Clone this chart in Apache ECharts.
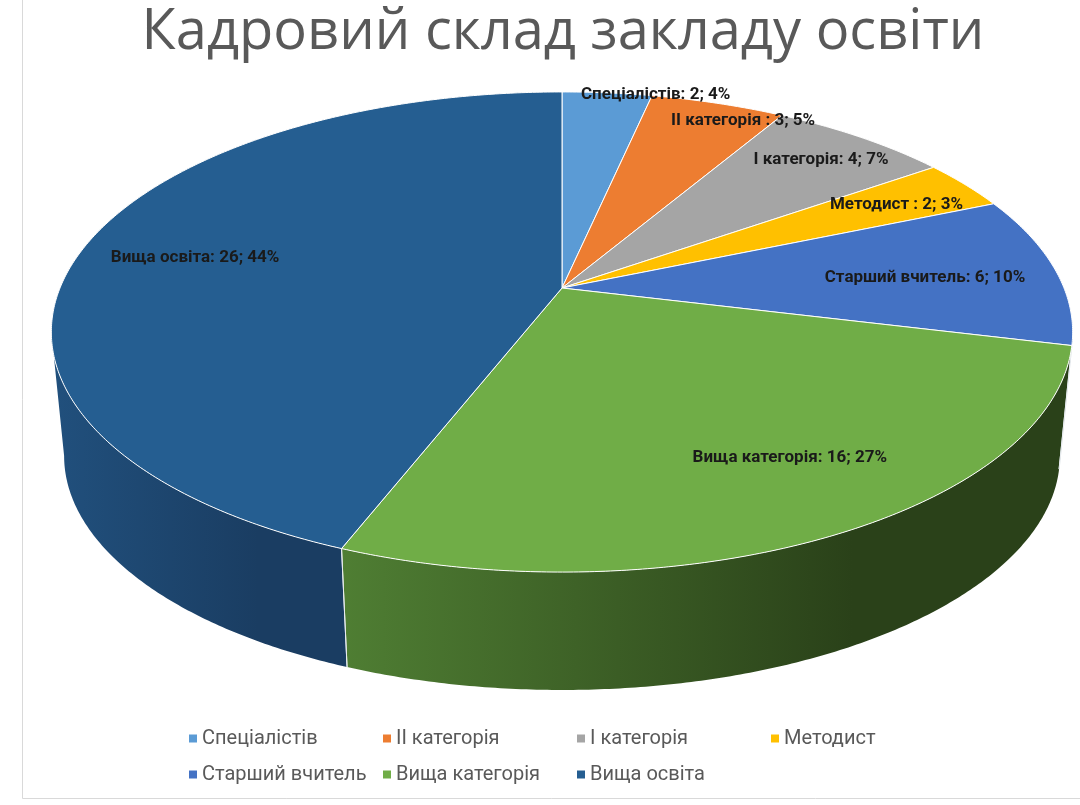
<!DOCTYPE html>
<html><head><meta charset="utf-8">
<script src="https://cdn.jsdelivr.net/npm/echarts@6/dist/echarts.min.js"></script>
<style>html,body{margin:0;padding:0;background:#fff}#c{width:1080px;height:805px}</style>
</head><body><div id="c"></div>
<script>
// ---- data ----
const categories = ['Спеціалістів', 'ІІ категорія', 'І категорія', 'Методист', 'Старший вчитель', 'Вища категорія', 'Вища освіта'];
const labelNames = ['Спеціалістів', 'ІІ категорія ', 'І категорія', 'Методист ', 'Старший вчитель', 'Вища категорія', 'Вища освіта'];
const values = [2, 3, 4, 2, 6, 16, 26];
const percentLabels = ['4%', '5%', '7%', '3%', '10%', '27%', '44%'];
const titleText = 'Кадровий склад закладу освіти';

// ---- styles / layout ----
const topColors = ['#5B9BD5', '#ED7D31', '#A5A5A5', '#FFC000', '#4472C4', '#70AD47', '#255E91'];
const wallColors = [
  ['#3f78ad', '#2f5f8c'], ['#b95c1f', '#8f4416'], ['#7e7e7e', '#636363'], ['#c79500', '#9b7400'],
  ['#34599a', '#26437a'], ['#4f7e33', '#2a4119'], ['#21507d', '#1a3d62']
];
const labelRadius = [1.01, 0.93, 0.84, 0.81, 0.73, 0.76, 0.76];
const labelAngleShift = [6.5, 5.2, 0.4, 0.7, 1.2, -4.3, -0.7];

// 3D projection parameters
const CX = 562, CY = 288, RA = 502, RB = 232, K = 0.1833, S_BOT = 0.975, DEPTH = 125;
const VIS0 = 90 + Math.asin(K) * 180 / Math.PI, VIS1 = 360 - VIS0;

function proj(thetaDeg, r, bottom) {
  const t = thetaDeg * Math.PI / 180;
  const u = r * Math.sin(t), v = -r * Math.cos(t);
  const w = 1 - K * v;
  if (!bottom) return [CX + RA * u / w, CY + RB * v / w];
  return [CX + RA * S_BOT * u / w, CY + DEPTH + RB * S_BOT * v / w];
}
function arc(a0, a1, bottom) {
  const pts = [];
  const n = Math.max(2, Math.ceil(Math.abs(a1 - a0) / 0.5) + 1);
  for (let i = 0; i < n; i++) pts.push(proj(a0 + (a1 - a0) * i / (n - 1), 1, bottom));
  return pts;
}

const total = values.reduce((a, b) => a + b, 0);
let cum = 0;
const series = categories.map((name, i) => {
  const start = cum; cum += values[i];
  return {
    type: 'custom',
    name: name,
    coordinateSystem: 'none',
    itemStyle: { color: topColors[i] },
    data: [[values[i], start, total, i]],
    renderItem: function (params, api) {
      const val = api.value(0), st = api.value(1), tot = api.value(2), idx = api.value(3);
      const a0 = st / tot * 360, a1 = (st + val) / tot * 360;
      const children = [];
      // side wall (front visible part)
      const b0 = Math.max(a0, VIS0), b1 = Math.min(a1, VIS1);
      if (b1 > b0) {
        const pts = arc(b0, b1, false).concat(arc(b1, b0, true));
        children.push({
          type: 'polygon', z2: 0,
          shape: { points: pts },
          style: {
            fill: new echarts.graphic.LinearGradient(0, 0, 1, 0, [
              { offset: 0, color: wallColors[idx][0] },
              { offset: 0.7, color: wallColors[idx][1] },
              { offset: 1, color: wallColors[idx][1] }
            ]),
            stroke: null
          }
        });
        [a0, a1].forEach(function (a) {
          if (a > VIS0 && a < VIS1) {
            const p = proj(a, 1, false), q = proj(a, 1, true);
            children.push({ type: 'line', z2: 5, shape: { x1: p[0], y1: p[1], x2: q[0], y2: q[1] },
              style: { stroke: '#e8ecef', lineWidth: 1 } });
          }
        });
      }
      // top face
      const topPts = [[CX, CY]].concat(arc(a0, a1, false));
      children.push({
        type: 'polygon', z2: 10,
        shape: { points: topPts },
        style: { fill: topColors[idx], stroke: '#ffffff', lineWidth: 1, lineJoin: 'round' }
      });
      // label
      const mid = (a0 + a1) / 2 + labelAngleShift[idx];
      const lp = proj(mid, labelRadius[idx], false);
      children.push({
        type: 'text', z2: 100,
        style: {
          text: labelNames[idx] + ': ' + val + '; ' + percentLabels[idx],
          x: lp[0], y: lp[1],
          fill: '#1a1a1a',
          font: 'bold 17px Roboto',
          align: 'center', verticalAlign: 'middle'
        }
      });
      return { type: 'group', children: children };
    }
  };
});

const chart = echarts.init(document.getElementById('c'), null, { renderer: 'canvas' });
chart.setOption({
  animation: false,
  backgroundColor: '#ffffff',
  title: {
    text: titleText,
    left: 558, textAlign: 'center', top: 0,
    textStyle: { fontFamily: 'Open Sans', fontSize: 56, fontWeight: 'normal', color: '#595959' }
  },
  legend: {
    data: categories,
    left: 184, top: 718, width: 800,
    orient: 'horizontal',
    icon: 'rect', itemWidth: 8, itemHeight: 8, itemGap: 5,
    textStyle: { fontFamily: 'Roboto', fontSize: 20, color: '#595959', width: 176, lineHeight: 31 }
  },
  graphic: [
    { type: 'line', shape: { x1: 22.5, y1: 0, x2: 22.5, y2: 798.5 }, style: { stroke: '#d9d9d9', lineWidth: 1 } },
    { type: 'line', shape: { x1: 22.5, y1: 798.5, x2: 1080, y2: 798.5 }, style: { stroke: '#d9d9d9', lineWidth: 1 } }
  ],
  series: series
});
</script>
</body></html>
